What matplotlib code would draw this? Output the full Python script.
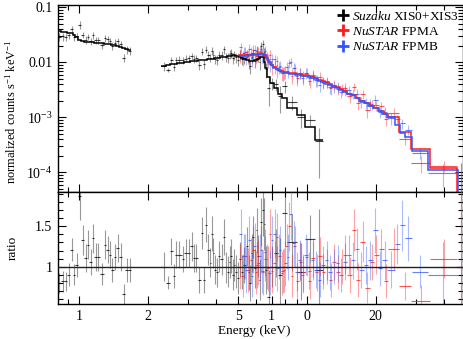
import numpy as np
import matplotlib
matplotlib.use("Agg")
import matplotlib.pyplot as plt
from matplotlib.ticker import FixedLocator, FixedFormatter, NullFormatter, MultipleLocator
from matplotlib.lines import Line2D

plt.rcParams['font.family'] = ['Liberation Serif', 'DejaVu Serif']
plt.rcParams['mathtext.fontset'] = 'custom'
plt.rcParams['mathtext.rm'] = 'Liberation Serif'
plt.rcParams['mathtext.it'] = 'Liberation Serif:italic'

# ---------------- data (energies in keV, counts s^-1 keV^-1) ----------------
xis_soft_edges = [0.803, 0.834, 0.864, 0.890, 0.918, 0.942, 0.965, 0.995, 1.025, 1.057,
                  1.084, 1.111, 1.140, 1.168, 1.198, 1.240, 1.286, 1.319, 1.352, 1.386,
                  1.421, 1.458, 1.502, 1.548, 1.596, 1.645, 1.700]
xis_soft_model = [0.0366, 0.0360, 0.0352, 0.0345, 0.0336, 0.0318, 0.0290, 0.0258, 0.0240, 0.0232,
                  0.0230, 0.0229, 0.0229, 0.0228, 0.0226, 0.0222, 0.0219, 0.0215, 0.0212, 0.0207,
                  0.0203, 0.0198, 0.0192, 0.0185, 0.0178, 0.0168]
xis_soft_ratio = [0.80, 0.82, 0.82, 0.90, 1.21, 0.90, 1.02, 1.88, 1.33, 1.11,
                  1.27, 1.06, 1.35, 1.12, 1.12, 0.91, 1.27, 1.21, 1.15, 0.96,
                  1.12, 1.23, 1.12, 0.66, 0.96, 0.96]
xis_soft_err = [0.12, 0.13, 0.12, 0.14, 0.14, 0.13, 0.15, 0.30, 0.18, 0.17,
                0.18, 0.16, 0.18, 0.17, 0.17, 0.14, 0.18, 0.17, 0.17, 0.15,
                0.16, 0.17, 0.17, 0.12, 0.15, 0.15]

xis_hard_edges = [2.30, 2.42, 2.51, 2.58, 2.63, 2.70, 2.82, 2.90, 2.97, 3.08,
                  3.17, 3.23, 3.32, 3.42, 3.50, 3.58, 3.66, 3.74, 3.80, 3.86,
                  3.92, 4.00, 4.08, 4.16, 4.29, 4.38, 4.47, 4.54, 4.61, 4.69,
                  4.77, 4.85, 4.95, 5.04, 5.13, 5.25, 5.38, 5.51, 5.59, 5.68,
                  5.76, 5.86, 5.98, 6.06, 6.15, 6.25, 6.36, 6.46, 6.55, 6.68,
                  6.90, 7.15, 7.45, 7.80, 8.20, 9.00, 9.80, 10.80, 11.70]
xis_hard_model = [0.0085, 0.0091, 0.0093, 0.0094, 0.0095, 0.0097, 0.0099, 0.0100, 0.0102, 0.0104,
                  0.0105, 0.0106, 0.0108, 0.0110, 0.0111, 0.0112, 0.0114, 0.0115, 0.0116, 0.0117,
                  0.0118, 0.0120, 0.0121, 0.0123, 0.0125, 0.0127, 0.0129, 0.0131, 0.0132, 0.0133,
                  0.0133, 0.0132, 0.0130, 0.0127, 0.0122, 0.0117, 0.0112, 0.0108, 0.0106, 0.0105,
                  0.0106, 0.0108, 0.0112, 0.0117, 0.0122, 0.0126, 0.0124, 0.0100, 0.0078, 0.0054,
                  0.0042, 0.0034, 0.0027, 0.0022, 0.00145, 0.00110, 0.00066, 0.00038]
xis_hard_ratio = [1.00, 0.80, 1.19, 0.88, 1.15, 1.15, 1.09, 1.17, 1.17, 1.25,
                  1.11, 1.11, 0.84, 1.42, 0.84, 1.52, 1.21, 1.05, 1.41, 1.17,
                  0.96, 0.93, 1.13, 1.09, 1.37, 0.99, 0.94, 1.06, 1.13, 0.90,
                  1.02, 0.94, 0.86, 1.09, 0.93, 1.02, 1.25, 0.93, 0.80, 1.17,
                  1.37, 0.98, 1.45, 1.13, 0.84, 1.55, 1.70, 1.53, 0.96, 0.63,
                  1.00, 1.17, 0.90, 1.66, 1.30, 0.94, 1.34, 0.96]
xis_hard_err = [0.18, 0.08, 0.17, 0.15, 0.17, 0.17, 0.16, 0.17, 0.17, 0.18,
                0.17, 0.17, 0.16, 0.20, 0.16, 0.22, 0.19, 0.18, 0.22, 0.19,
                0.18, 0.18, 0.19, 0.19, 0.22, 0.19, 0.19, 0.20, 0.21, 0.19,
                0.20, 0.20, 0.20, 0.22, 0.21, 0.22, 0.24, 0.22, 0.22, 0.24,
                0.26, 0.24, 0.28, 0.26, 0.25, 0.30, 0.32, 0.32, 0.30, 0.33,
                0.25, 0.30, 0.45, 0.40, 0.35, 0.35, 0.30, 0.75]

fpma_edges = [5.00, 5.15, 5.30, 5.45, 5.60, 5.75, 5.90, 6.05, 6.20, 6.35,
              6.50, 6.65, 6.80, 6.95, 7.12, 7.30, 7.48, 7.66, 7.85, 8.05,
              8.25, 8.47, 8.70, 8.95, 9.22, 9.50, 9.80, 10.12, 10.46, 10.82,
              11.20, 11.60, 12.02, 12.46, 12.92, 13.40, 13.90, 14.45, 15.05, 15.70,
              16.40, 17.15, 17.95, 18.80, 19.70, 20.65, 21.65, 22.70, 25.40, 28.70,
              34.60, 45.50, 49.00]
fpma_model = [0.0136, 0.0136, 0.0136, 0.0137, 0.0137, 0.0139, 0.0141, 0.0143, 0.0145, 0.0144,
              0.0130, 0.0112, 0.0098, 0.0089, 0.0082, 0.0077, 0.0073, 0.0070, 0.0068, 0.0066,
              0.0065, 0.0064, 0.0063, 0.0062, 0.0061, 0.0060, 0.0058, 0.0056, 0.0054, 0.0051,
              0.0048, 0.0045, 0.0043, 0.0040, 0.0037, 0.0035, 0.0033, 0.0030, 0.0027, 0.0025,
              0.0022, 0.0020, 0.0018, 0.0016, 0.00145, 0.00130, 0.00115, 0.00100, 0.00054, 0.00026,
              0.00012, 0.00003]
fpma_ratio = [1.00, 0.89, 1.13, 0.96, 1.08, 1.21, 0.93, 1.05, 1.21, 0.93,
              1.10, 0.98, 1.41, 0.95, 1.04, 1.37, 1.13, 0.92, 0.96, 1.25,
              1.50, 0.89, 1.25, 0.82, 1.06, 0.93, 1.12, 0.82, 1.11, 0.93,
              1.13, 0.94, 1.00, 0.84, 1.06, 0.93, 1.00, 1.15, 0.90, 1.45,
              0.84, 1.31, 0.74, 1.06, 1.15, 1.22, 0.82, 1.22, 0.76, 0.57,
              1.10, 1.00]
fpma_err = [0.28, 0.27, 0.28, 0.27, 0.28, 0.29, 0.27, 0.28, 0.29, 0.28,
            0.28, 0.28, 0.30, 0.28, 0.28, 0.30, 0.28, 0.27, 0.27, 0.28,
            0.30, 0.27, 0.25, 0.22, 0.24, 0.23, 0.24, 0.22, 0.24, 0.23,
            0.24, 0.22, 0.22, 0.21, 0.22, 0.21, 0.22, 0.24, 0.22, 0.26,
            0.21, 0.25, 0.19, 0.22, 0.24, 0.25, 0.21, 0.26, 0.17, 0.20,
            0.24, 4.0]

fpmb_edges = [5.05, 5.20, 5.35, 5.50, 5.66, 5.82, 5.98, 6.14, 6.30, 6.46,
              6.62, 6.78, 6.95, 7.13, 7.32, 7.52, 7.72, 7.93, 8.15, 8.38,
              8.62, 8.88, 9.15, 9.44, 9.75, 10.08, 10.42, 10.78, 11.16, 11.56,
              11.98, 12.42, 12.88, 13.36, 13.86, 14.40, 14.98, 15.60, 16.26, 16.96,
              17.70, 18.50, 19.40, 20.40, 21.40, 22.50, 24.20, 25.60, 26.80, 28.90,
              33.80, 46.00, 49.00]
fpmb_model = [0.0132, 0.0132, 0.0132, 0.0133, 0.0134, 0.0136, 0.0138, 0.0141, 0.0142, 0.0136,
              0.0118, 0.0101, 0.0088, 0.0080, 0.0074, 0.0070, 0.0067, 0.0065, 0.0063, 0.0062,
              0.0061, 0.0060, 0.0059, 0.0057, 0.0056, 0.0054, 0.0052, 0.0049, 0.0046, 0.0043,
              0.0041, 0.0038, 0.0036, 0.0034, 0.0032, 0.0029, 0.0027, 0.0025, 0.0022, 0.0020,
              0.0018, 0.0016, 0.00145, 0.00130, 0.00115, 0.00100, 0.00072, 0.00052, 0.00044, 0.00024,
              0.000110, 0.00003]
fpmb_ratio = [1.41, 1.13, 0.96, 1.33, 0.89, 1.25, 1.02, 1.13, 0.95, 1.18,
              1.00, 0.92, 1.33, 1.41, 0.98, 1.21, 0.95, 1.04, 1.12, 1.65,
              1.29, 0.94, 1.08, 0.90, 1.15, 0.95, 1.08, 0.96, 0.84, 1.02,
              1.08, 0.93, 1.00, 1.04, 0.90, 1.06, 1.15, 1.08, 1.22, 0.96,
              1.02, 1.08, 1.45, 0.98, 1.08, 0.96, 1.28, 1.51, 1.35, 0.94,
              0.90, 1.00]
fpmb_err = [0.30, 0.28, 0.28, 0.30, 0.27, 0.29, 0.28, 0.28, 0.27, 0.29,
            0.28, 0.27, 0.30, 0.30, 0.28, 0.29, 0.27, 0.28, 0.28, 0.32,
            0.28, 0.24, 0.25, 0.23, 0.25, 0.23, 0.24, 0.23, 0.22, 0.23,
            0.24, 0.22, 0.22, 0.23, 0.21, 0.23, 0.24, 0.23, 0.26, 0.22,
            0.23, 0.24, 0.28, 0.22, 0.24, 0.23, 0.25, 0.31, 0.28, 0.20,
            0.40, 4.0]

x_tick_values = [1, 2, 5, 7, 10, 20]
x_tick_labels = ['1', '2', '5', '1', '0', '20']
legend_labels = [r'$\mathit{Suzaku}$ XIS0+XIS3', r'$\mathit{NuSTAR}$ FPMA', r'$\mathit{NuSTAR}$ FPMB']

# ---------------- figure ----------------
W, H = 464, 339
fig = plt.figure(figsize=(W / 100, H / 100), dpi=100)
L, R = 58, 463
ax1 = fig.add_axes([L / W, 1 - 192 / H, (R - L) / W, (192 - 5) / H])
ax2 = fig.add_axes([L / W, 1 - 304 / H, (R - L) / W, (304 - 192) / H], sharex=ax1)

BLACK, RED, BLUE = '#000000', '#ff1a1a', '#3355ff'


def draw(edges, model, ratio, err, color, zorder):
    e = np.asarray(edges)
    m = np.asarray(model)
    r = np.asarray(ratio)
    s = np.asarray(err)
    c = np.sqrt(e[:-1] * e[1:])
    xe = [c - e[:-1], e[1:] - c]
    counts = m * r
    cerr = m * s
    for ax, y, ye in ((ax1, counts, cerr), (ax2, r, s)):
        ax.errorbar(c, y, yerr=ye, fmt='none', ecolor=color, elinewidth=0.8,
                    alpha=0.4, zorder=zorder)
        ax.errorbar(c, y, xerr=xe, fmt='none', ecolor=color, elinewidth=0.8,
                    alpha=0.75, zorder=zorder)
    ax1.stairs(m, e, baseline=None, color=color, lw=1.1, zorder=zorder + 5)


draw(xis_soft_edges, xis_soft_model, xis_soft_ratio, xis_soft_err, BLACK, 2)
draw(xis_hard_edges, xis_hard_model, xis_hard_ratio, xis_hard_err, BLACK, 2)
draw(fpma_edges, fpma_model, fpma_ratio, fpma_err, RED, 3)
draw(fpmb_edges, fpmb_model, fpmb_ratio, fpmb_err, BLUE, 4)

ax2.axhline(1.0, color='#222222', lw=1.0, zorder=10)

for ax in (ax1, ax2):
    ax.set_xscale('log')
    ax.set_xlim(0.81, 48.3)
    ax.tick_params(which='both', direction='in', top=True, right=True,
                   labelsize=10, width=0.8, pad=4)
    ax.tick_params(which='major', length=6)
    ax.tick_params(which='minor', length=3.5)
    for sp in ax.spines.values():
        sp.set_linewidth(1.0)

minor_x = [v * d for d in (0.1, 1, 10) for v in range(1, 10)]
minor_x = [v for v in minor_x if v not in x_tick_values]
for ax in (ax1, ax2):
    ax.xaxis.set_major_locator(FixedLocator(x_tick_values))
    ax.xaxis.set_minor_locator(FixedLocator(minor_x))
    ax.xaxis.set_minor_formatter(NullFormatter())
ax2.xaxis.set_major_formatter(FixedFormatter(x_tick_labels))
ax1.tick_params(axis='x', which='both', labelbottom=False)

ax1.set_yscale('log')
ax1.set_ylim(4.39e-5, 0.110)
ax1.yaxis.set_major_locator(FixedLocator([1e-4, 1e-3, 1e-2, 1e-1]))
ax1.yaxis.set_major_formatter(FixedFormatter([r'$10^{-4}$', r'$10^{-3}$', '0.01', '0.1']))
ax1.set_ylabel(r'normalized counts s$^{-1}$ keV$^{-1}$', fontsize=9)

ax2.set_ylim(0.538, 1.924)
ax2.yaxis.set_major_locator(FixedLocator([1.0, 1.5]))
ax2.yaxis.set_major_formatter(FixedFormatter(['1', '1.5']))
ax2.yaxis.set_minor_locator(MultipleLocator(0.1))
ax2.set_ylabel('ratio', fontsize=9.5)
ax2.set_xlabel('Energy (keV)', fontsize=9.5, labelpad=3)
ax2.xaxis.set_label_coords(0.485, -0.19)

ax1.yaxis.set_label_coords(-0.098, 0.43)
ax2.yaxis.set_label_coords(-0.098, 0.5)

handles = [Line2D([], [], ls='none', marker='+', ms=8, mew=2, color=c) for c in (BLACK, RED, BLUE)]
ax1.legend(handles, legend_labels, loc='upper right', frameon=False, fontsize=9.6,
           handlelength=0.6, handletextpad=0.35, labelspacing=0.22,
           borderaxespad=0.1, borderpad=0.25)

fig.savefig('out.png', dpi=100)
